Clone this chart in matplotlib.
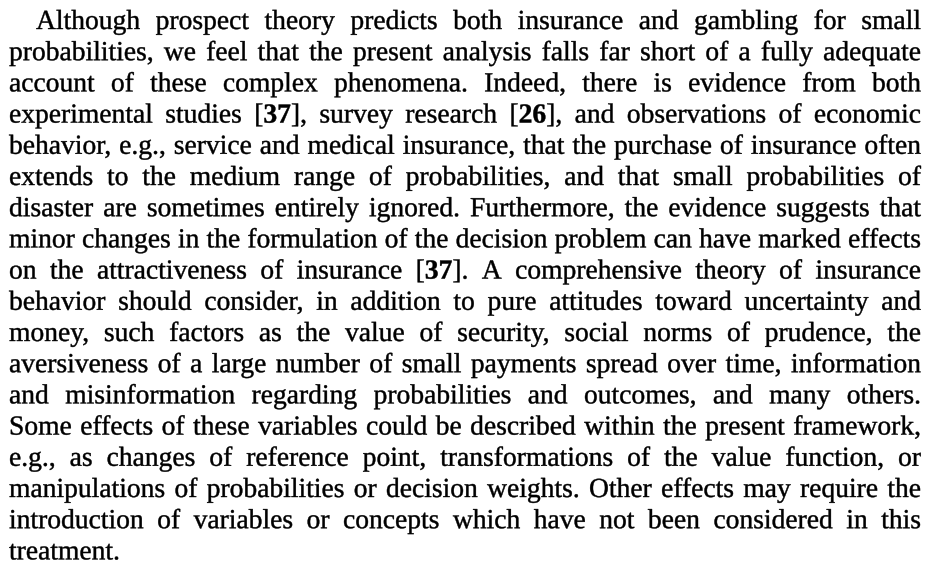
import re
import matplotlib
matplotlib.use("Agg")
import matplotlib.pyplot as plt
from matplotlib.font_manager import FontProperties
from matplotlib.textpath import TextPath, text_to_path
from matplotlib.patches import PathPatch
from matplotlib.transforms import Affine2D

# lines of the paragraph as set in the page, **...** marks bold reference numbers
lines = [
    "Although prospect theory predicts both insurance and gambling for small",
    "probabilities, we feel that the present analysis falls far short of a fully adequate",
    "account of these complex phenomena. Indeed, there is evidence from both",
    "experimental studies [**37**], survey research [**26**], and observations of economic",
    "behavior, e.g., service and medical insurance, that the purchase of insurance often",
    "extends to the medium range of probabilities, and that small probabilities of",
    "disaster are sometimes entirely ignored. Furthermore, the evidence suggests that",
    "minor changes in the formulation of the decision problem can have marked effects",
    "on the attractiveness of insurance [**37**]. A comprehensive theory of insurance",
    "behavior should consider, in addition to pure attitudes toward uncertainty and",
    "money, such factors as the value of security, social norms of prudence, the",
    "aversiveness of a large number of small payments spread over time, information",
    "and misinformation regarding probabilities and outcomes, and many others.",
    "Some effects of these variables could be described within the present framework,",
    "e.g., as changes of reference point, transformations of the value function, or",
    "manipulations of probabilities or decision weights. Other effects may require the",
    "introduction of variables or concepts which have not been considered in this",
    "treatment.",
]

W, H = 933, 565
left, right = 9, 921
indent = 27
first_base = 29
pitch = 31.2
family = "Liberation Serif"

fig = plt.figure(figsize=(W / 100, H / 100), dpi=100)
ax = fig.add_axes([0, 0, 1, 1])
ax.set_xlim(0, W)
ax.set_ylim(H, 0)
ax.axis("off")


def runs(word):
    out = []
    for part in re.split(r"(\*\*[^*]+\*\*)", word):
        if not part:
            continue
        if part.startswith("**"):
            out.append((part[2:-2], "bold"))
        else:
            out.append((part, "normal"))
    return out


def prop(weight, size):
    return FontProperties(family=family, weight=weight, size=size)


def width(s, weight, size):
    w, h, d = text_to_path.get_text_width_height_descent(s, prop(weight, size), ismath=False)
    return w


# fit the em size (pixels) so the tightest line still has a small word gap
em0 = 24.0
need = 0
for i, line in enumerate(lines[:-1]):
    words = line.split()
    wsum = sum(width(s, wt, em0) for w in words for s, wt in runs(w))
    avail = (right - left) - (indent if i == 0 else 0)
    need = max(need, (wsum + (len(words) - 1) * 0.26 * em0) / avail)
em = em0 / need

for i, line in enumerate(lines):
    words = line.split()
    x0 = left + (indent if i == 0 else 0)
    y = first_base + i * pitch
    parts = [[(s, wt, width(s, wt, em)) for s, wt in runs(w)] for w in words]
    wsum = sum(p[2] for ws in parts for p in ws)
    if i < len(lines) - 1 and len(words) > 1:
        gap = (right - x0 - wsum) / (len(words) - 1)
    else:
        gap = 0.25 * em
    x = x0
    for ws in parts:
        for s, wt, w in ws:
            tp = TextPath((0, 0), s, size=em, prop=prop(wt, em))
            tp = tp.transformed(Affine2D().scale(1, -1).translate(x, y))
            ax.add_patch(PathPatch(tp, facecolor="black", edgecolor="black",
                                   linewidth=0.3))
            x += w
        x += gap

fig.savefig("out.png", dpi=100, facecolor="white")
